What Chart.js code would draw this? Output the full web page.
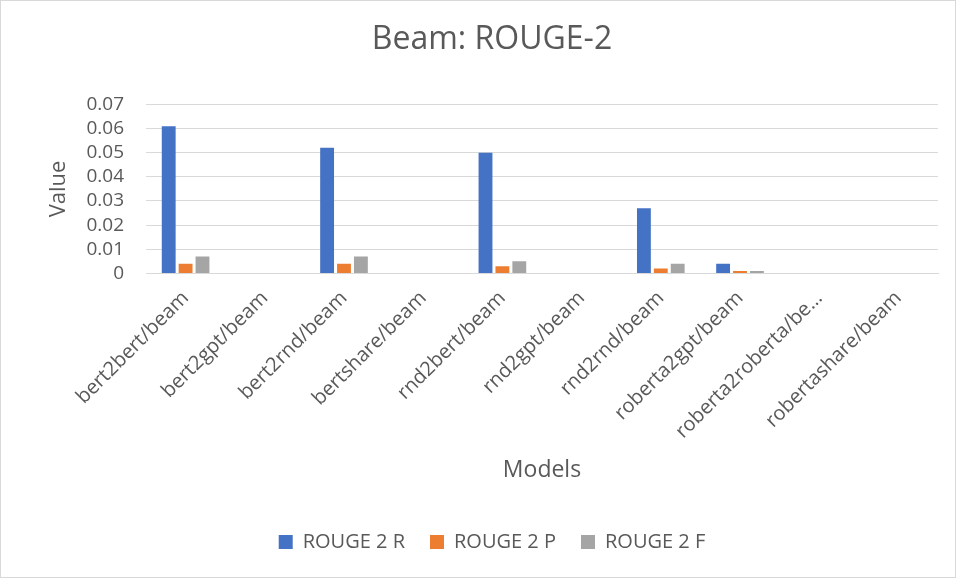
<!DOCTYPE html>
<html><head><meta charset="utf-8">
<script src="https://cdn.jsdelivr.net/npm/chart.js@4/dist/chart.umd.min.js"></script>
<style>
html,body{margin:0;padding:0;background:#fff;}
#wrap{position:absolute;left:0;top:0;width:954px;height:576px;border:1px solid #d9d9d9;}
</style></head><body>
<div id="wrap"><canvas id="c" width="954" height="576"></canvas></div>
<script>
const categories = ["bert2bert/beam","bert2gpt/beam","bert2rnd/beam","bertshare/beam","rnd2bert/beam","rnd2gpt/beam","rnd2rnd/beam","roberta2gpt/beam","roberta2roberta/be…","robertashare/beam"];
const rouge2R = [0.061,0,0.052,0,0.050,0,0.027,0.004,0,0];
const rouge2P = [0.004,0,0.004,0,0.003,0,0.002,0.001,0,0];
const rouge2F = [0.007,0,0.007,0,0.005,0,0.004,0.001,0,0];
const yTicks = [0,0.01,0.02,0.03,0.04,0.05,0.06,0.07];
const FONT = "'Open Sans', sans-serif";
const GREY = "#595959";
new Chart(document.getElementById('c'), {
  type: 'bar',
  data: {
    labels: categories,
    datasets: [
      {label:'ROUGE 2 R', data: rouge2R, backgroundColor:'#4472c4'},
      {label:'ROUGE 2 P', data: rouge2P, backgroundColor:'#ed7d31'},
      {label:'ROUGE 2 F', data: rouge2F, backgroundColor:'#a5a5a5'}
    ]
  },
  options: {
    responsive:false, animation:false,
    datasets:{bar:{categoryPercentage:0.64, barPercentage:0.82}},
    layout:{padding:{left:45,right:17,top:20,bottom:15}},
    plugins:{
      title:{display:true,text:'Beam: ROUGE-2',color:GREY,font:{family:FONT,size:32,weight:'normal'},padding:{top:0,bottom:45}},
      legend:{position:'bottom',labels:{color:GREY,font:{family:FONT,size:20},boxWidth:14,boxHeight:14,padding:25}},
      tooltip:{enabled:false}
    },
    scales:{
      x:{
        grid:{display:false,drawTicks:false},
        border:{color:'#d9d9d9'},
        afterFit:(s)=>{s.paddingLeft=0;s.paddingRight=0;},
        ticks:{color:GREY,font:{family:FONT,size:20},maxRotation:45,minRotation:45,padding:13,autoSkip:false},
        title:{display:true,text:'Models',color:GREY,font:{family:FONT,size:23},padding:{top:0,bottom:23}}
      },
      y:{
        min:0,max:0.07,
        afterBuildTicks:(s)=>{s.ticks=yTicks.map(v=>({value:v}));},
        afterFit:(s)=>{s.width=100;},
        grid:{color:'#d9d9d9',lineWidth:1,drawTicks:false},
        border:{display:false},
        ticks:{color:GREY,font:{family:FONT,size:19},padding:22,autoSkip:false,callback:(v)=>String(Math.round(v*100)/100)},
        title:{display:true,text:'Value',color:GREY,font:{family:FONT,size:22},padding:{top:0,bottom:4}}
      }
    }
  }
});
</script></body></html>
